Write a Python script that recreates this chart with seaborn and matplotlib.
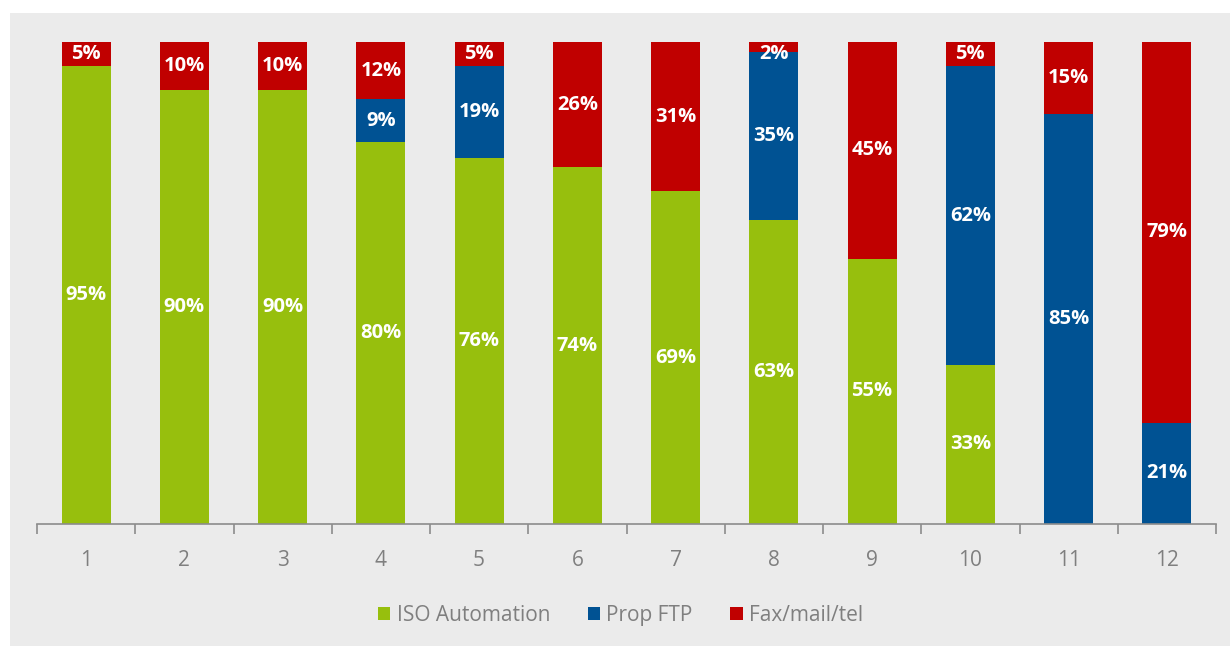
import numpy as np
import pandas as pd
import matplotlib
matplotlib.use("Agg")
import matplotlib.pyplot as plt
import seaborn as sns
from matplotlib.patches import Rectangle

# data
categories = [str(i) for i in range(1, 13)]
iso_automation = [95, 90, 90, 80, 76, 74, 69, 63, 55, 33, 0, 0]
prop_ftp = [0, 0, 0, 9, 19, 0, 0, 35, 0, 62, 85, 21]
fax_mail_tel = [5, 10, 10, 12, 5, 26, 31, 2, 45, 5, 15, 79]

series_names = ["ISO Automation", "Prop FTP", "Fax/mail/tel"]
colors = ["#97BF0D", "#005293", "#C00000"]

sns.set_style("white")
plt.rcParams["font.family"] = ["Open Sans", "DejaVu Sans"]

# 100% stacked, like the source chart
raw = np.array([iso_automation, prop_ftp, fax_mail_tel], dtype=float)
share = raw / raw.sum(axis=0) * 100
cum = np.cumsum(share, axis=0)

fig = plt.figure(figsize=(12.3, 6.46), dpi=100)
fig.patch.set_facecolor("white")
fig.patches.append(Rectangle((10 / 1230, 0), 1 - 10 / 1230, 1 - 13 / 646,
                             transform=fig.transFigure, facecolor="#EBEBEB",
                             edgecolor="none", zorder=-10))

ax = fig.add_axes([37 / 1230, 1 - 524 / 646, (1216 - 37) / 1230, (524 - 42) / 646])
ax.set_facecolor("none")

# draw tallest stack first so the lower segments sit on top
for i in [2, 1, 0]:
    df = pd.DataFrame({"cat": categories, "val": cum[i]})
    sns.barplot(data=df, x="cat", y="val", color=colors[i], width=0.5,
                saturation=1, linewidth=0, ax=ax, label=series_names[i])

for i in range(3):
    for j in range(len(categories)):
        if raw[i, j] <= 0:
            continue
        # keep tiny top segments' labels inside the bar
        mid = min(cum[i, j] - share[i, j] / 2, 97.5)
        ax.text(j, mid, f"{int(raw[i, j])}%", ha="center", va="center",
                color="white", fontsize=14.5, fontweight="bold")

ax.set_xlim(-0.5, len(categories) - 0.5)
ax.set_ylim(0, 100)
ax.set_xlabel("")
ax.set_ylabel("")
ax.set_yticks([])
for s in ["top", "right", "left"]:
    ax.spines[s].set_visible(False)
ax.spines["bottom"].set_color("#8C8C8C")
ax.spines["bottom"].set_linewidth(1.2)

ax.set_xticks(np.arange(len(categories)))
ax.set_xticklabels(categories, color="#7F7F7F", fontsize=15)
ax.tick_params(axis="x", which="major", bottom=True, length=0, pad=19)
ax.set_xticks(np.arange(len(categories) + 1) - 0.5, minor=True)
ax.tick_params(axis="x", which="minor", bottom=True, length=7, color="#8C8C8C",
               width=1.2, direction="out")

handles, labels = ax.get_legend_handles_labels()
order = [labels.index(n) for n in series_names]
leg = ax.legend([handles[k] for k in order], [labels[k] for k in order],
                loc="center", bbox_to_anchor=(0.495, -0.19), ncol=3, frameon=False,
                fontsize=15, handlelength=0.6, handleheight=0.6, handletextpad=0.3,
                columnspacing=1.8)
for t in leg.get_texts():
    t.set_color("#7F7F7F")

fig.savefig("out.png", dpi=100, facecolor=fig.get_facecolor())
